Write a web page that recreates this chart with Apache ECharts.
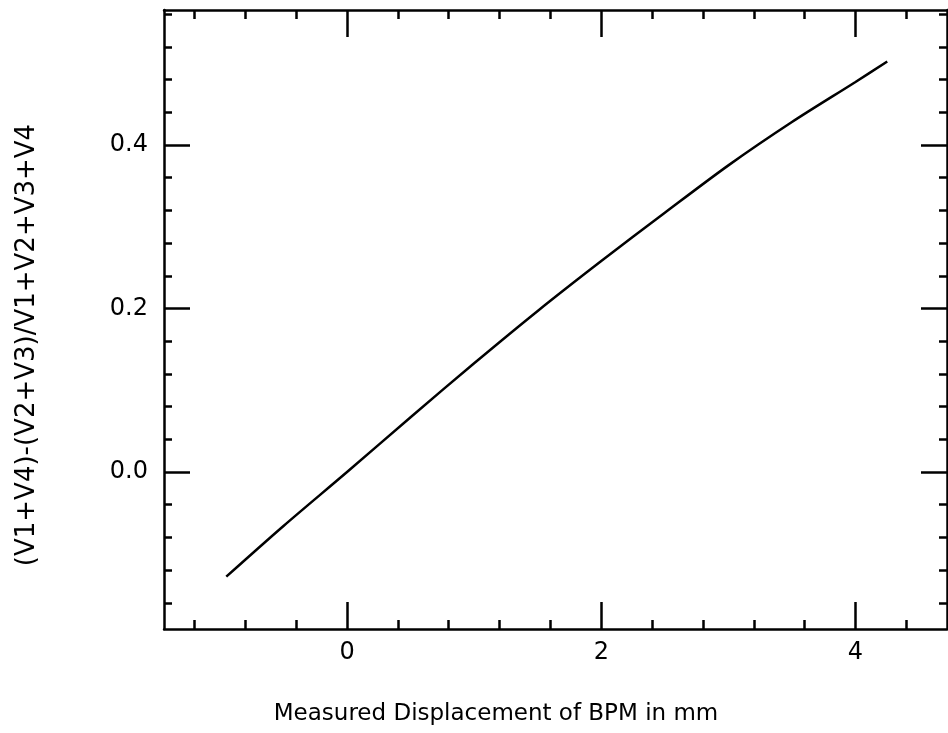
<!DOCTYPE html>
<html>
<head>
<meta charset="utf-8">
<script src="https://cdn.jsdelivr.net/npm/echarts@6/dist/echarts.min.js"></script>
<style>
html,body{margin:0;padding:0;background:#fff;}
#chart{width:948px;height:733px;}
</style>
</head>
<body>
<div id="chart"></div>
<script>
// Data
var xValues = [-0.95, -0.5, 0, 0.5, 1.0, 1.5, 2.0, 2.5, 3.0, 3.5, 4.0, 4.25];
var yValues = [-0.128, -0.066, 0.0, 0.067, 0.133, 0.197, 0.258, 0.317, 0.375, 0.428, 0.477, 0.502];

var xMajorTicks = [0, 2, 4];
var xMinorTicks = [-1.2, -0.8, -0.4, 0.4, 0.8, 1.2, 1.6, 2.4, 2.8, 3.2, 3.6, 4.4];
var yMajorTicks = [0.0, 0.2, 0.4];
var yMinorTicks = [-0.16, -0.12, -0.08, -0.04, 0.04, 0.08, 0.12, 0.16, 0.24, 0.28, 0.32, 0.36, 0.44, 0.48, 0.52, 0.56];

var xLabel = 'Measured Displacement of BPM in mm';
var yLabel = '(V1+V4)-(V2+V3)/V1+V2+V3+V4';

var X_MIN = -1.44, X_MAX = 4.72, Y_MIN = -0.192, Y_MAX = 0.565;

var chart = echarts.init(document.getElementById('chart'), null, {renderer: 'canvas'});

var lineStyle = {color: '#000', width: 2.5};
var fontFamily = 'DejaVu Sans';

function xAxis(pos, ticks, len, showLine, showLabel) {
  return {
    type: 'value', position: pos, min: X_MIN, max: X_MAX,
    axisLine: {show: showLine, onZero: false, lineStyle: lineStyle},
    axisTick: {show: true, inside: true, length: len, customValues: ticks, lineStyle: lineStyle},
    axisLabel: {show: showLabel, customValues: ticks, margin: 12, color: '#000', fontSize: 24, fontFamily: fontFamily,
      formatter: function (v) { return String(Math.round(v)); }},
    splitLine: {show: false}
  };
}
function yAxis(pos, ticks, len, showLine, showLabel) {
  return {
    type: 'value', position: pos, min: Y_MIN, max: Y_MAX,
    axisLine: {show: showLine, onZero: false, lineStyle: lineStyle},
    axisTick: {show: true, inside: true, length: len, customValues: ticks, lineStyle: lineStyle},
    axisLabel: {show: showLabel, customValues: ticks, margin: 16, color: '#000', fontSize: 24, fontFamily: fontFamily,
      formatter: function (v) { return v.toFixed(1); }},
    splitLine: {show: false}
  };
}

var data = xValues.map(function (x, i) { return [x, yValues[i]]; });

chart.setOption({
  animation: false,
  backgroundColor: '#fff',
  grid: {left: 164, right: 1, top: 10, bottom: 104, containLabel: false},
  xAxis: [
    xAxis('bottom', xMajorTicks, 27, true, true),
    xAxis('bottom', xMinorTicks, 9, false, false),
    xAxis('top', xMajorTicks, 27, true, false),
    xAxis('top', xMinorTicks, 9, false, false)
  ],
  yAxis: [
    yAxis('left', yMajorTicks, 26, true, true),
    yAxis('left', yMinorTicks, 8, false, false),
    yAxis('right', yMajorTicks, 26, true, false),
    yAxis('right', yMinorTicks, 8, false, false)
  ],
  series: [{
    type: 'line', xAxisIndex: 0, yAxisIndex: 0, data: data,
    smooth: 0.3, showSymbol: false, symbol: 'none',
    lineStyle: {color: '#000', width: 2.5}
  }],
  graphic: [
    {type: 'text', x: 496, y: 714, style: {text: xLabel, fill: '#000', font: '23px "DejaVu Sans"', align: 'center', verticalAlign: 'middle'}},
    {type: 'text', x: 27, y: 345, rotation: Math.PI / 2, style: {text: yLabel, fill: '#000', font: '26px "DejaVu Sans"', align: 'center', verticalAlign: 'middle'}}
  ]
});
</script>
</body>
</html>
